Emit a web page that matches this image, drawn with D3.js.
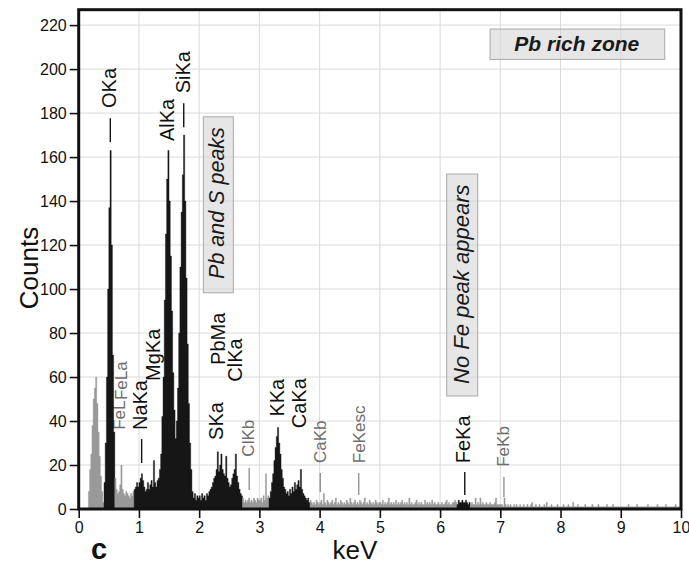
<!DOCTYPE html>
<html>
<head>
<meta charset="utf-8">
<script src="https://cdn.jsdelivr.net/npm/d3@7"></script>
<style>
  body { margin: 0; background: #fff; }
  svg { display: block; font-family: "Liberation Sans", Arial, Helvetica, sans-serif; }
</style>
</head>
<body>
<svg id="chart" width="689" height="567"></svg>
<script>
// EDS spectrum, 0.02 keV channels, one row per keV (50 channels each)
const channelWidth = 0.02;
const countsRow0 = [0,0,0,0,0,0,0,0,8,18, 25,38,50,55,60,48,35,24,15,8, 3,12,30,60,100,137,163,120,70,35, 14,9,7,8,11,20,9,7,6,8, 7,6,5,7,6,8,9,10,12,10];
const countsRow1 = [12,14,16,13,10,8,9,12,9,11, 13,10,22,12,10,13,14,18,25,42, 60,95,125,150,163,140,115,90,62,45, 32,40,55,80,110,135,152,170,140,105, 75,48,30,18,8,5,7,4,6,5];
const countsRow2 = [6,4,7,5,6,4,7,6,8,9, 10,12,14,15,18,26,17,20,25,18, 16,15,24,14,12,10,11,14,16,18, 25,15,12,9,7,6,5,3,4,3, 4,5,3,4,3,5,4,3,5,4];
const countsRow3 = [4,5,3,6,4,16,5,6,5,8, 12,16,22,28,33,37,30,25,18,14, 10,9,7,8,6,9,7,10,8,12, 9,11,13,10,18,9,7,6,5,4, 5,3,4,3,2,3,2,4,3,2];
const countsRow4 = [3,4,2,7,3,2,4,3,2,3, 4,2,3,5,2,3,2,4,3,2, 3,2,4,3,2,5,3,2,3,4, 2,3,2,4,3,2,3,5,2,3, 2,4,3,2,3,2,4,3,2,3];
const countsRow5 = [3,2,4,2,3,2,3,5,2,3, 2,3,2,4,2,3,2,3,4,2, 3,2,3,2,5,2,3,2,2,3, 4,2,3,2,3,2,2,4,2,3, 2,3,2,4,2,3,2,2,3,2];
const countsRow6 = [2,3,2,2,3,4,2,3,2,2, 3,3,4,3,2,4,3,3,4,3, 3,4,3,2,3,2,3,2,2,5, 2,3,2,5,2,3,2,2,3,2, 2,3,2,2,2,3,5,2,2,2];
const countsRow7 = [2,2,1,5,2,1,2,1,2,1, 1,2,1,2,1,1,2,1,1,2, 1,1,2,1,1,2,3,1,1,2, 1,1,2,1,1,1,2,1,3,1, 1,1,2,1,1,1,1,2,1,1];
const countsRow8 = [1,1,2,1,1,1,2,1,1,1, 3,1,1,1,2,1,1,1,1,1, 2,1,1,1,1,1,2,1,1,1, 1,2,1,1,1,1,1,1,2,1, 1,1,1,2,1,1,1,1,1,1];
const countsRow9 = [1,1,1,1,1,1,2,1,1,1, 1,1,1,2,1,1,1,1,1,1, 1,1,2,1,1,1,1,1,1,1, 2,1,1,1,1,1,1,2,1,1, 1,1,1,1,1,2,1,1,1,1];

// energy windows of identified peaks (drawn dark); everything else is drawn grey
const identifiedBands = [[0.42, 0.60], [0.92, 2.72], [3.16, 3.84], [6.28, 6.50]];

// axis ticks
const xTicks = [0,1,2,3,4,5,6,7,8,9,10];
const yTicks = [0,20,40,60,80,100,120,140,160,180,200,220];

// peak labels: name, energy (keV), counts level of the label foot, identified?
const peakNames  = ["OKa","AlKa","SiKa","NaKa","MgKa","FeL","FeLa","PbMa","ClKa","SKa","ClKb","KKa","CaKa","CaKb","FeKesc","FeKa","FeKb"];
const peakEnergy = [0.511,1.461,1.737,1.018,1.239,0.672,0.700,2.318,2.595,2.285,2.816,3.297,3.663,4.006,4.659,6.376,7.050];
const peakLabelAt= [182.3,167.3,189.0,35.9,58.2,36.0,49.5,65.5,57.9,31.4,23.8,42.0,36.7,20.9,20.8,20.8,19.2];
const peakMajor  = [true,true,true,true,true,false,false,true,true,true,false,true,true,false,false,true,false];

// short marker ticks above peaks: energy, lower and upper counts
const markerEnergy = [0.525,1.744,1.045,6.41,2.83,4.01,4.65,7.06];
const markerLow    = [166.8,173.6,20.9,6.4,8.6,7.7,6.4,5.5];
const markerHigh   = [177.7,184.5,31.8,16.8,18.6,16.4,16.4,14.5];
const markerMajor  = [true,true,true,true,false,false,false,false];

const counts = [countsRow0,countsRow1,countsRow2,countsRow3,countsRow4,countsRow5,countsRow6,countsRow7,countsRow8,countsRow9].flat();

const svg = d3.select("#chart");
const x = d3.scaleLinear().domain([0, 10]).range([78.7, 681]);
const y = d3.scaleLinear().domain([0, 227]).range([509, 9.7]);

// grid
const grid = svg.append("g").attr("stroke", "#dadada").attr("stroke-width", 1);
grid.selectAll("line.v").data(xTicks).join("line")
  .attr("x1", d => x(d)).attr("x2", d => x(d)).attr("y1", y.range()[0]).attr("y2", y.range()[1]);
grid.selectAll("line.h").data(yTicks).join("line")
  .attr("x1", x.range()[0]).attr("x2", x.range()[1]).attr("y1", d => y(d)).attr("y2", d => y(d));

// vertical text helper (reads bottom-to-top)
function vText(g, px, py, txt, size, fill, opts = {}) {
  return g.append("text")
    .attr("transform", `translate(${px},${py}) rotate(-90)`)
    .attr("dy", "0.35em")
    .attr("text-anchor", opts.anchor || "start")
    .attr("font-size", size)
    .attr("font-style", opts.italic ? "italic" : null)
    .attr("font-weight", opts.bold ? "bold" : null)
    .attr("fill", fill)
    .text(txt);
}

// peak labels
const labels = svg.append("g");
peakNames.forEach((n, i) => {
  vText(labels, x(peakEnergy[i]), y(peakLabelAt[i]), n,
        peakMajor[i] ? 20 : 17, peakMajor[i] ? "#111" : "#6e6e6e");
});

// spectrum: contiguous runs of channels share one fill colour
const isIdentified = e => identifiedBands.some(([a, b]) => e >= a - 1e-9 && e < b - 1e-9);
const runs = [];
counts.forEach((c, i) => {
  const e = i * channelWidth;
  const dark = isIdentified(e);
  const last = runs[runs.length - 1];
  if (last && last.dark === dark) last.pts.push([e, c]);
  else runs.push({ dark, pts: [[e, c]] });
});
runs.forEach(r => {
  const lastPt = r.pts[r.pts.length - 1];
  r.pts.push([lastPt[0] + channelWidth, lastPt[1]]);
});
const area = d3.area().curve(d3.curveStepAfter)
  .x(d => x(d[0])).y0(y(0)).y1(d => y(d[1]));
svg.append("g").selectAll("path").data(runs).join("path")
  .attr("d", d => area(d.pts))
  .attr("fill", d => d.dark ? "#161616" : "#999999")
  .attr("stroke", d => d.dark ? "#161616" : "#999999")
  .attr("stroke-width", 0.4);

// peak markers
svg.append("g").selectAll("line").data(markerEnergy).join("line")
  .attr("x1", d => x(d)).attr("x2", d => x(d))
  .attr("y1", (d, i) => y(markerLow[i])).attr("y2", (d, i) => y(markerHigh[i]))
  .attr("stroke", (d, i) => markerMajor[i] ? "#111" : "#777")
  .attr("stroke-width", (d, i) => markerMajor[i] ? 1.4 : 1.1);

// annotation boxes
const notes = svg.append("g");
function box(x0, x1, c0, c1) {
  notes.append("rect")
    .attr("x", x(x0)).attr("y", y(c1))
    .attr("width", x(x1) - x(x0)).attr("height", y(c0) - y(c1))
    .attr("fill", "#d6d6d6").attr("fill-opacity", 0.6)
    .attr("stroke", "#a8a8a8").attr("stroke-width", 1);
}
box(6.83, 9.73, 204.4, 218.2);
notes.append("text")
  .attr("x", x(8.27)).attr("y", y(211.6)).attr("dy", "0.35em")
  .attr("text-anchor", "middle").attr("font-size", 21)
  .attr("font-weight", "bold").attr("font-style", "italic").attr("fill", "#1a1a1a")
  .text("Pb rich zone");
box(2.069, 2.567, 98.3, 178.3);
vText(notes, x(2.291), y(139.1), "Pb and S peaks", 21.5, "#1a1a1a", { anchor: "middle", italic: true });
box(6.11, 6.625, 51.4, 152.3);
vText(notes, x(6.359), y(102.2), "No Fe peak appears", 22, "#1a1a1a", { anchor: "middle", italic: true });

// axes
const yAxis = svg.append("g").attr("transform", `translate(${x(0)},0)`)
  .call(d3.axisLeft(y).tickValues(yTicks).tickSize(9).tickPadding(3));
const xAxis = svg.append("g").attr("transform", `translate(0,${y(0)})`)
  .call(d3.axisBottom(x).tickValues(xTicks).tickSize(9).tickPadding(4));
[yAxis, xAxis].forEach(a => {
  a.select(".domain").remove();
  a.selectAll(".tick line").attr("stroke", "#111").attr("stroke-width", 1.6);
  a.selectAll(".tick text").attr("font-size", 16).attr("fill", "#111")
    .attr("font-family", "'Liberation Sans', Arial, sans-serif");
});

// frame
svg.append("rect")
  .attr("x", x(0)).attr("y", y(227))
  .attr("width", x(10) - x(0)).attr("height", y(0) - y(227))
  .attr("fill", "none").attr("stroke", "#111").attr("stroke-width", 3);

// axis titles
svg.append("text")
  .attr("transform", `translate(29,268) rotate(-90)`)
  .attr("text-anchor", "middle").attr("dy", "0.35em")
  .attr("font-size", 26).attr("fill", "#111").text("Counts");
svg.append("text")
  .attr("x", 355).attr("y", 559).attr("text-anchor", "middle")
  .attr("font-size", 26).attr("fill", "#111").text("keV");
svg.append("text")
  .attr("x", 91).attr("y", 559)
  .attr("font-size", 29).attr("font-weight", "bold").attr("fill", "#111").text("c");
</script>
</body>
</html>
